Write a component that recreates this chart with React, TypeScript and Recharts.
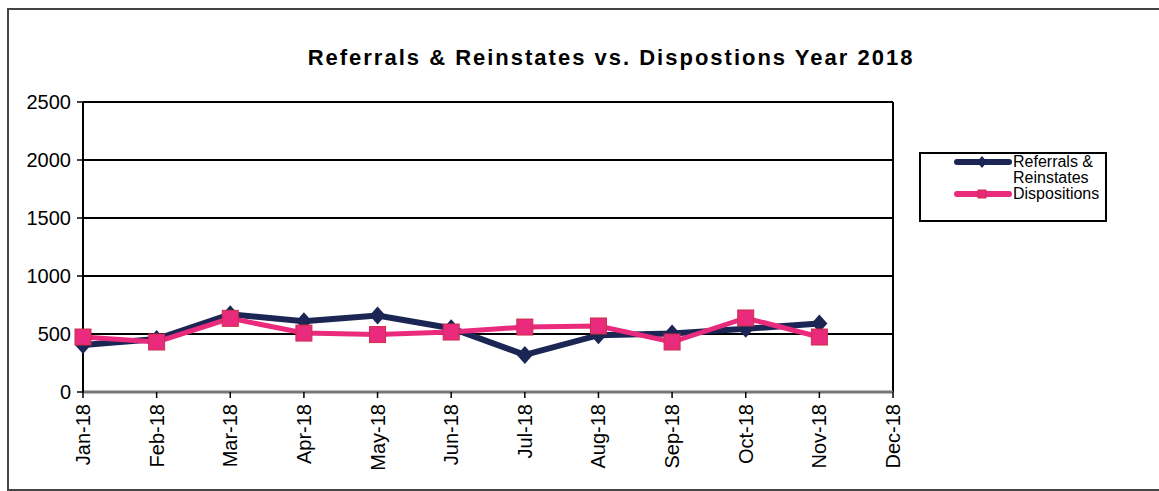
import React from "react";
import {
    LineChart,
    Line,
    XAxis,
    YAxis,
    CartesianGrid,
    ReferenceLine,
} from "recharts";

const months = [
    "Jan-18", "Feb-18", "Mar-18", "Apr-18", "May-18", "Jun-18",
    "Jul-18", "Aug-18", "Sep-18", "Oct-18", "Nov-18", "Dec-18",
];
const referrals = [405, 457, 670, 610, 660, 550, 320, 490, 505, 545, 590, null];
const dispositions = [474, 431, 635, 508, 495, 517, 560, 569, 431, 638, 474, null];
const yTicks = [0, 500, 1000, 1500, 2000, 2500];

const NAVY = "#1b2654";
const PINK = "#ea2a7d";
const FONT = "Liberation Sans, Arial, sans-serif";

const data = months.map((m, i) => ({
    name: m,
    referrals: referrals[i],
    dispositions: dispositions[i],
}));

const Diamond = (props: any) => {
    const { cx, cy } = props;
    if (cx == null || cy == null || props.value == null) return null;
    return (
        <polygon
            points={`${cx},${cy - 9} ${cx + 8},${cy} ${cx},${cy + 9} ${cx - 8},${cy}`}
            fill={NAVY}
        />
    );
};

const Square = (props: any) => {
    const { cx, cy } = props;
    if (cx == null || cy == null || props.value == null) return null;
    return (
        <rect
            x={cx - 8}
            y={cy - 8}
            width={16}
            height={16}
            fill={PINK}
            stroke="#c8304a"
            strokeWidth={1}
        />
    );
};

const XTick = (props: any) => {
    const { x, y, payload } = props;
    return (
        <text
            x={0}
            y={0}
            transform={`translate(${x},${y + 4}) rotate(-90)`}
            textAnchor="end"
            dy="0.35em"
            fontSize={20}
            fontFamily={FONT}
            fill="#000"
        >
            {payload.value}
        </text>
    );
};

// legend drawn by hand, Excel style box to the right of the plot
const LegendBox = () => (
    <div
        style={{
            position: "absolute",
            left: 919,
            top: 152,
            width: 184,
            height: 66,
            border: "2px solid #000",
            background: "#fff",
            fontFamily: FONT,
            fontSize: 16,
            lineHeight: "16px",
            color: "#000",
        }}
    >
        <svg width={60} height={60} style={{ position: "absolute", left: 33, top: 0 }}>
            <line x1={3} y1={8} x2={55} y2={8} stroke={NAVY} strokeWidth={6} strokeLinecap="round" />
            <polygon points="28,2 33,8 28,14 23,8" fill={NAVY} />
            <line x1={3} y1={40} x2={55} y2={40} stroke={PINK} strokeWidth={6} strokeLinecap="round" />
            <rect x={24} y={36} width={8} height={8} fill={PINK} stroke="#c8304a" />
        </svg>
        <div style={{ position: "absolute", left: 92, top: 0, width: 90 }}>
            Referrals &amp;
            <br />
            Reinstates
        </div>
        <div style={{ position: "absolute", left: 92, top: 32 }}>Dispositions</div>
    </div>
);

export default function App() {
    return (
        <div
            style={{
                position: "absolute",
                left: 0,
                top: 0,
                width: 1159,
                height: 491,
                overflow: "hidden",
                background: "#fff",
            }}
        >
            <div
                style={{
                    position: "absolute",
                    left: 7,
                    top: 8,
                    width: 1170,
                    height: 479,
                    borderLeft: "2px solid #444",
                    borderTop: "2px solid #444",
                    borderBottom: "2px solid #444",
                }}
            />
            <div
                style={{
                    position: "absolute",
                    left: 0,
                    top: 45,
                    width: 1222,
                    textAlign: "center",
                    fontFamily: FONT,
                    fontWeight: "bold",
                    fontSize: 22,
                    color: "#000",
                    letterSpacing: 2,
                }}
            >
                Referrals &amp; Reinstates vs. Dispostions Year 2018
            </div>
            <div style={{ position: "absolute", left: 0, top: 0 }}>
                <LineChart
                    width={1159}
                    height={491}
                    data={data}
                    margin={{ top: 102, right: 266, left: 0, bottom: 0 }}
                >
                    <CartesianGrid
                        vertical={false}
                        stroke="#000"
                        strokeWidth={2}
                    />
                    <XAxis
                        dataKey="name"
                        height={99}
                        interval={0}
                        tick={<XTick />}
                        tickSize={6}
                        tickLine={{ stroke: "#000", strokeWidth: 1.5 }}
                        axisLine={{ stroke: "#777", strokeWidth: 3 }}
                    />
                    <YAxis
                        width={83}
                        domain={[0, 2500]}
                        ticks={yTicks}
                        interval={0}
                        tickSize={6}
                        tickMargin={6}
                        tickLine={{ stroke: "#000", strokeWidth: 1.5 }}
                        axisLine={{ stroke: "#000", strokeWidth: 2 }}
                        tick={{ fill: "#000", fontSize: 20, fontFamily: FONT }}
                    />
                    <ReferenceLine x="Dec-18" stroke="#000" strokeWidth={2} />
                    <Line
                        type="linear"
                        dataKey="referrals"
                        stroke={NAVY}
                        strokeWidth={6}
                        dot={<Diamond />}
                        activeDot={false}
                        isAnimationActive={false}
                    />
                    <Line
                        type="linear"
                        dataKey="dispositions"
                        stroke={PINK}
                        strokeWidth={5}
                        dot={<Square />}
                        activeDot={false}
                        isAnimationActive={false}
                    />
                </LineChart>
            </div>
            <LegendBox />
        </div>
    );
}
